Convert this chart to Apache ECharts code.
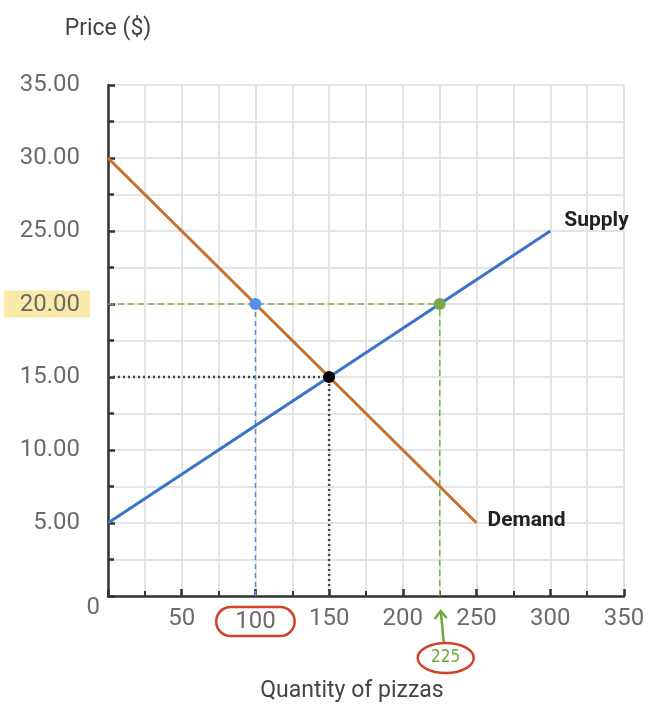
<!DOCTYPE html>
<html>
<head>
<meta charset="utf-8">
<script src="https://cdn.jsdelivr.net/npm/echarts@6/dist/echarts.min.js"></script>
<style>
  html, body { margin: 0; padding: 0; background: #fff; }
  #chart { width: 658px; height: 712px; }
</style>
</head>
<body>
<div id="chart"></div>
<script>
// demand and supply curves
var demandQty = [0, 250];
var demandPrice = [30, 5];
var supplyQty = [0, 300];
var supplyPrice = [5, 25];
// marked points
var pointQty = [100, 225, 150];
var pointPrice = [20, 20, 15];
var pointColors = ['#5b8def', '#79a84b', '#000000'];
var annotQty = 225;
var annotText = '225';

var chart = echarts.init(document.getElementById('chart'));

function pairs(xs, ys) {
    return xs.map(function (x, i) { return [x, ys[i]]; });
}

var guideStyle = [
    { color: '#5b8def', width: 1.5, type: [5, 4] },
    { color: '#79b043', width: 1.5, type: [6, 4] },
    { color: '#444', width: 2.5, type: [2, 3] }
];

var series = [];
// guide lines: down to x-axis and across to y-axis
pointQty.forEach(function (q, i) {
    var p = pointPrice[i];
    series.push({
        type: 'line', silent: true, symbol: 'none', z: 1,
        lineStyle: guideStyle[i],
        data: [[q, 0], [q, p]]
    });
    if (i > 0) {
        series.push({
            type: 'line', silent: true, symbol: 'none', z: 1,
            lineStyle: guideStyle[i],
            data: [[0, p], [q, p]]
        });
    }
});

series.push({
    name: 'Demand', type: 'line', symbol: 'none', z: 3,
    lineStyle: { color: '#c5712c', width: 3 },
    data: pairs(demandQty, demandPrice),
    endLabel: { show: true, formatter: '{a}', color: '#222', fontWeight: 'bold', fontSize: 21, offset: [3, -2], fontFamily: 'Roboto' }
});
series.push({
    name: 'Supply', type: 'line', symbol: 'none', z: 3,
    lineStyle: { color: '#3a74c9', width: 3 },
    data: pairs(supplyQty, supplyPrice),
    endLabel: { show: true, formatter: '{a}', color: '#222', fontWeight: 'bold', fontSize: 21, offset: [6, -10], fontFamily: 'Roboto' }
});
series.push({
    type: 'scatter', symbolSize: 12, z: 5,
    data: pointQty.map(function (q, i) {
        return { value: [q, pointPrice[i]], itemStyle: { color: pointColors[i], opacity: 1 } };
    })
});

var labelColor = '#6b6b6b';

var option = {
    animation: false,
    textStyle: { fontFamily: 'Roboto' },
    grid: { left: 108, right: 34, top: 85, bottom: 116 },
    xAxis: {
        type: 'value', min: 0, max: 350, interval: 50,
        name: 'Quantity of pizzas', nameLocation: 'middle', nameGap: 84,
        nameTextStyle: { fontSize: 23, color: '#444', padding: [0, 28, 0, 0] },
        axisLine: { show: true, lineStyle: { color: '#333', width: 2.5 } },
        axisTick: { show: true, inside: true, length: 7, lineStyle: { color: '#333', width: 2.5 } },
        minorTick: { show: true, splitNumber: 2, length: 5, lineStyle: { color: '#333', width: 2 } },
        splitLine: { show: true, lineStyle: { color: '#e4e4e4', width: 2 } },
        minorSplitLine: { show: true, lineStyle: { color: '#e4e4e4', width: 2 } },
        axisLabel: {
            fontSize: 24, color: labelColor, margin: 11,
            formatter: function (v) {
                if (v === 0) return '';
                return v === 100 ? '{c|' + v + '}' : String(v);
            },
            rich: {
                c: { fontSize: 24, color: labelColor, borderColor: '#d2412a', borderWidth: 2.5, borderRadius: 40, padding: [3, 19, 2, 19] }
            }
        }
    },
    yAxis: {
        type: 'value', min: 0, max: 35, interval: 5,
        name: 'Price ($)', nameLocation: 'end', nameGap: 44,
        nameTextStyle: { fontSize: 23, color: '#444', align: 'center' },
        axisLine: { show: true, lineStyle: { color: '#333', width: 2.5 } },
        axisTick: { show: true, inside: true, length: 7, lineStyle: { color: '#333', width: 2.5 } },
        minorTick: { show: true, splitNumber: 2, length: 6, lineStyle: { color: '#333', width: 2.5 } },
        splitLine: { show: true, lineStyle: { color: '#e4e4e4', width: 2 } },
        minorSplitLine: { show: true, lineStyle: { color: '#e4e4e4', width: 2 } },
        axisLabel: {
            margin: 8,
            formatter: function (v) {
                if (v === 0) return '{z|0}';
                if (v === 20) return '{h|20.00}{s|}';
                return '{n|' + v.toFixed(2) + '}';
            },
            rich: {
                n: { fontSize: 24, color: labelColor, padding: [0, 20, 0, 0] },
                z: { fontSize: 24, color: labelColor, padding: [24, 0, 0, 0] },
                h: { fontSize: 24, color: labelColor, backgroundColor: '#fbe9a8', padding: [2, 10, 1, 16] },
                s: { width: 10 }
            }
        }
    },
    series: series
};
chart.setOption(option);

// handwritten note under the axis at 225
var base = chart.convertToPixel({ gridIndex: 0 }, [annotQty, 0]);
chart.setOption({
    graphic: [
        {
            type: 'line', z: 10,
            shape: { x1: base[0] + 4, y1: base[1] + 46, x2: base[0] + 1, y2: base[1] + 15 },
            style: { stroke: '#6fa83c', lineWidth: 2.5 }
        },
        {
            type: 'polyline', z: 10,
            shape: { points: [[base[0] - 5, base[1] + 23], [base[0] + 1, base[1] + 15], [base[0] + 7, base[1] + 22]] },
            style: { stroke: '#6fa83c', lineWidth: 2.5, fill: null }
        },
        {
            type: 'ellipse', z: 10,
            shape: { cx: base[0] + 6, cy: base[1] + 62, rx: 28, ry: 15 },
            style: { stroke: '#d2412a', lineWidth: 2.5, fill: null }
        },
        {
            type: 'text', z: 11,
            x: base[0] + 6, y: base[1] + 62,
            style: { text: annotText, fill: '#6fa83c', font: '17px "DejaVu Sans Condensed"', align: 'center', verticalAlign: 'middle' }
        }
    ]
});
</script>
</body>
</html>
